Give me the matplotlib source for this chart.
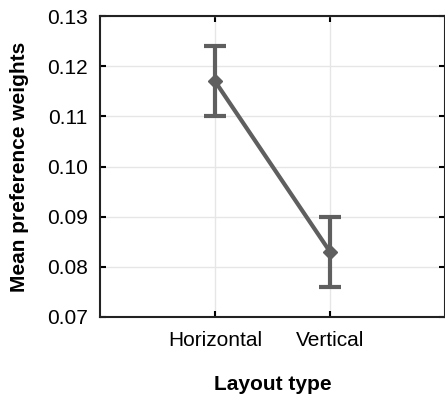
import numpy as np
import matplotlib
matplotlib.use('Agg')
import matplotlib.pyplot as plt

plt.rcParams['font.family'] = ['Liberation Sans', 'DejaVu Sans']

# donnees
categories = ['Horizontal', 'Vertical']
moyennes = [0.117, 0.083]
bas = [0.110, 0.076]
haut = [0.124, 0.090]

gris = '#5f5f5f'

fig = plt.figure(figsize=(4.45, 3.97), dpi=100)
ax = fig.add_axes([100/445, 80/397, 345/445, 301/397])

x = np.arange(1, len(categories) + 1)
err = [np.array(moyennes) - np.array(bas), np.array(haut) - np.array(moyennes)]
ax.errorbar(x, moyennes, yerr=err, color=gris, lw=3, marker='D', ms=7,
            capsize=8, capthick=3, elinewidth=3)

ax.set_xlim(0, 3)
ax.set_ylim(0.07, 0.13)
ax.set_xticks(x)
ax.set_xticklabels(categories)
ax.set_yticks(np.arange(0.07, 0.1301, 0.01))
ax.set_yticklabels(['%.2f' % v for v in np.arange(0.07, 0.1301, 0.01)])
ax.grid(True, color='#e6e6e6', lw=1)
ax.set_axisbelow(True)
ax.tick_params(direction='in', length=4, width=1.5, labelsize=15, top=True, right=True)
ax.tick_params(axis='y', pad=9)
ax.tick_params(axis='x', pad=10)
for s in ax.spines.values():
    s.set_linewidth(1.5)
    s.set_color('#222222')

ax.set_xlabel('Layout type', fontsize=15, fontweight='bold', labelpad=18)
ax.set_ylabel('Mean preference weights', fontsize=15, fontweight='bold', labelpad=13)

fig.savefig('out.png', dpi=100)
